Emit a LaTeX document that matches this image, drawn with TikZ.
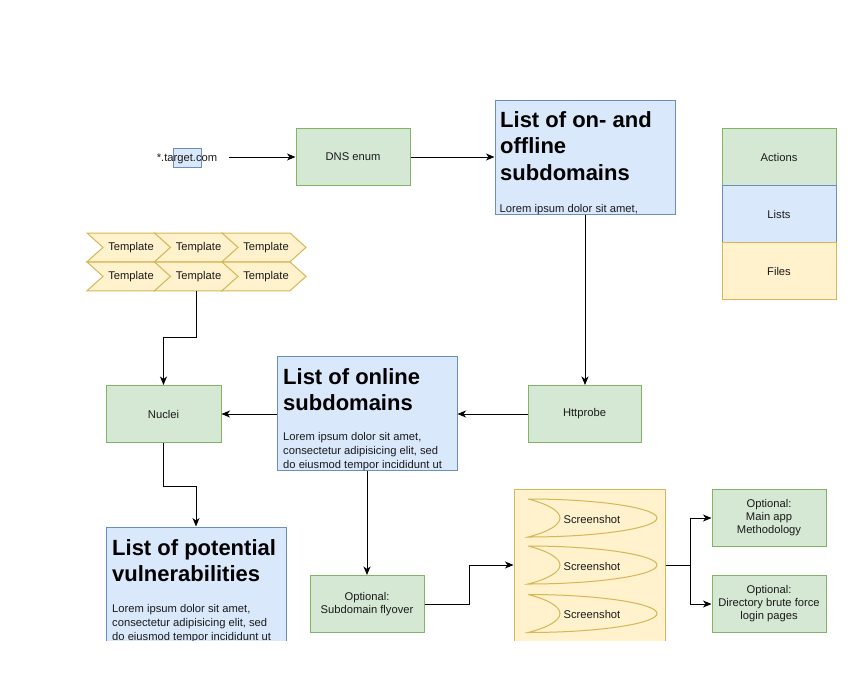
\documentclass[tikz,border=0pt]{standalone}
\usepackage{fontspec}
\setmainfont{Liberation Sans}
\usetikzlibrary{arrows.meta,calc}
\definecolor{gfill}{HTML}{D5E8D4}
\definecolor{gline}{HTML}{82B366}
\definecolor{bfill}{HTML}{DAE8FC}
\definecolor{bline}{HTML}{6C8EBF}
\definecolor{yfill}{HTML}{FFF2CC}
\definecolor{yline}{HTML}{D6B656}
\definecolor{txtc}{HTML}{1A1A1A}
\begin{document}
\begin{tikzpicture}[x=1pt,y=-1pt,
  box/.style={draw, line width=1pt, inner sep=2pt, align=center, text=txtc,
    font=\fontsize{11.2}{13}\selectfont},
  act/.style={box, fill=gfill, draw=gline, minimum width=114pt, minimum height=57pt},
  lst/.style={box, fill=bfill, draw=bline},
  fil/.style={box, fill=yfill, draw=yline},
  txt/.style={inner sep=0pt, text=txtc, font=\fontsize{11.2}{13}\selectfont},
  head/.style={anchor=north west, inner sep=0pt, align=left, text=black,
    font=\bfseries\fontsize{22}{26.5}\selectfont},
  lorem/.style={anchor=north west, inner sep=0pt, align=left, text=txtc,
    font=\fontsize{11.2}{14}\selectfont},
  chev/.style={fill=yfill, draw=yline, line width=1pt, line join=miter},
  shot/.style={fill=yfill, draw=yline, line width=1pt},
  arr/.style={draw=black, line width=1pt, -{Stealth[length=8.5pt,width=7pt,inset=2.5pt]}},
  ln/.style={draw=black, line width=1pt}]
\useasboundingbox (0,0) rectangle (868,681);
\begin{scope}
\clip (0,0) rectangle (868,640.6);

% start text
\node[draw=bline, fill=bfill, line width=1pt, minimum width=28pt, minimum height=19pt, inner sep=0pt] (tbox) at (187.5,157.5) {};
\node[txt, anchor=base] (target) at (187,161) {*.target.com};

% actions
\node[act] (dns) at (353,157) {DNS enum};
\node[act, minimum width=113pt] (httprobe) at (584.5,414) {Httprobe};
\node[act, minimum width=115pt] (nuclei) at (163.5,414) {Nuclei};
\node[act] (flyover) at (367,604) {Optional:\\Subdomain flyover};
\node[act] (mainapp) at (769,518) {Optional:\\Main app\\Methodology};
\node[act] (dirbf) at (769,604) {Optional:\\Directory brute force\\login pages};

% lists
\node[lst, minimum width=180pt, minimum height=114pt] (onoff) at (585,157) {};
\node[head] (onoffh) at (500,111) {List of on- and\\offline\\subdomains};
\node[lorem] (onoffl) at (499.5,204) {Lorem ipsum dolor sit amet,};

\node[lst, minimum width=180pt, minimum height=114pt] (online) at (367,413) {};
\node[head] (onlineh) at (283,368) {List of online\\subdomains};
\node[lorem] (onlinel) at (283,432) {Lorem ipsum dolor sit amet,\\consectetur adipisicing elit, sed\\do eiusmod tempor incididunt ut};

\node[lst, minimum width=180pt, minimum height=114pt] (potential) at (196,584) {};
\node[head] (potentialh) at (112,539) {List of potential\\vulnerabilities};
\node[lorem] (potentiall) at (112,604) {Lorem ipsum dolor sit amet,\\consectetur adipisicing elit, sed\\do eiusmod tempor incididunt ut};

% legend
\node[act, minimum width=114pt, minimum height=57pt] (lact) at (779,157) {Actions};
\node[lst, minimum width=114pt, minimum height=57pt] (llist) at (779,214) {Lists};
\node[fil, minimum width=114pt, minimum height=57pt] (lfile) at (779,271) {Files};

% templates
\foreach \L/\T/\n in {87/233/1, 154.5/233/2, 222/233/3, 87/262/4, 154.5/262/5, 222/262/6} {
  \draw[chev] (\L,\T) -- ++(68,0) -- ++(16,14.375) -- ++(-16,14.375) -- ++(-68,0) -- ++(16,-14.375) -- cycle;
  \node[txt] (tpl\n) at (\L+44,\T+15) {Template};
}
\coordinate (tplbot) at (196.5,290.75);

% screenshots
\node[fil, minimum width=151pt, minimum height=152pt] (shots) at (589.5,565) {};
\foreach \T/\n in {499/1, 546/2, 594.5/3} {
  \draw[shot] (528,\T) .. controls (599,\T) and (657,\T+9) .. (657,\T+19)
     .. controls (657,\T+29) and (599,\T+38) .. (528,\T+38)
     .. controls (548,\T+33) and (560,\T+26) .. (560,\T+19)
     .. controls (560,\T+12) and (548,\T+5) .. (528,\T);
  \node[txt] (shot\n) at (592,\T+20) {Screenshot};
}

% connectors
\draw[arr] ([xshift=12pt]target.east |- dns.west) -- (dns.west);
\draw[arr] (dns.east) -- (dns.east -| onoff.west);
\draw[arr] (onoff.south) -- (onoff.south |- httprobe.north);
\draw[arr] (httprobe.west) -- (httprobe.west -| online.east);
\draw[arr] (online.west |- nuclei.east) -- (nuclei.east);
\draw[arr] (tplbot) -- ++(0,46.5) -| (nuclei.north);
\draw[arr] (nuclei.south) -- ++(0,43) -| (potential.north);
\draw[arr] (online.south) -- (flyover.north);
\draw[arr] (flyover.east) -- ++(45,0) |- (shots.west);
\draw[arr] (shots.east) -- ++(25,0) |- (mainapp.west);
\draw[arr] (shots.east) -- ++(25,0) |- (dirbf.west);
\end{scope}
\end{tikzpicture}
\end{document}
